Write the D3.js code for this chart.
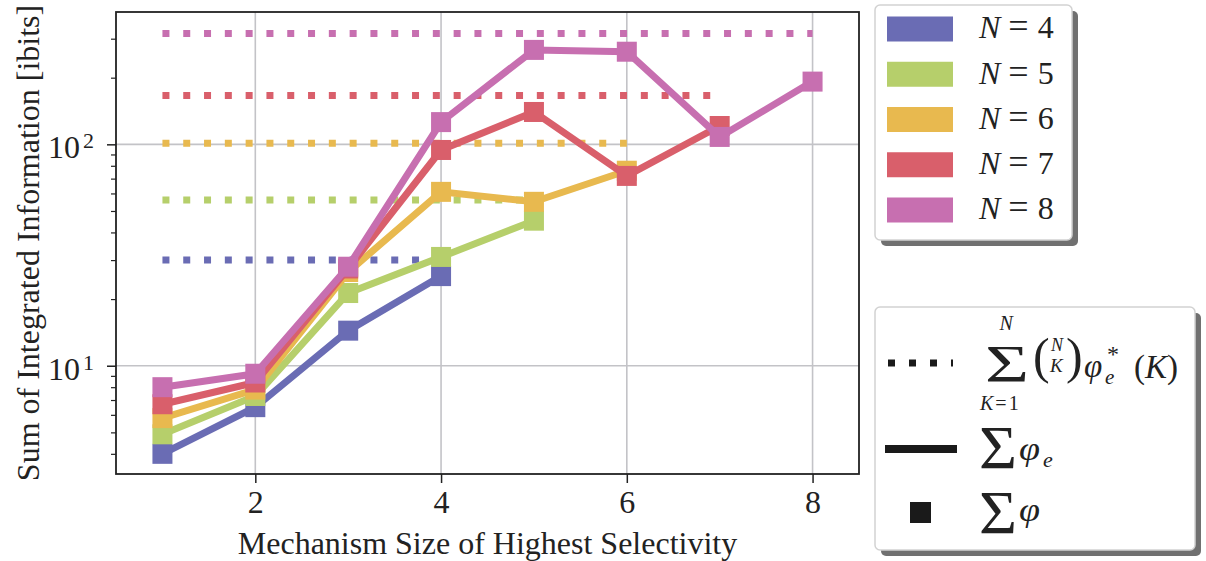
<!DOCTYPE html>
<html><head><meta charset="utf-8">
<script src="https://cdn.jsdelivr.net/npm/d3@7"></script>
<style>body{margin:0;background:#fff}</style>
</head><body><svg id="c" width="1206" height="561"></svg>
<script>
const sizes = [1, 2, 3, 4, 5, 6, 7, 8];
const nValues = [4, 5, 6, 7, 8];
const seriesN4 = [4.0, 6.5, 14.4, 25.4];
const seriesN5 = [4.9, 7.3, 21.3, 31.0, 45.2];
const seriesN6 = [5.8, 7.8, 26.5, 61.0, 55.0, 76.0];
const seriesN7 = [6.7, 8.4, 27.5, 94.3, 140.0, 72.0, 121.0];
const seriesN8 = [8.0, 9.2, 28.0, 126.0, 267.0, 262.0, 108.0, 192.0];
const boundValues = [30.0, 56.0, 101.0, 166.0, 317.0];
const colors = ["#6a6cb4", "#b6cf6b", "#e8b94f", "#d95f6b", "#c76fb0"];
const xTicks = [2, 4, 6, 8];
const yMajor = [10, 100];
const yMajorExp = ["1", "2"];
const yMinor = [4, 5, 6, 7, 8, 9, 20, 30, 40, 50, 60, 70, 80, 90, 200, 300];
const xLabel = "Mechanism Size of Highest Selectivity";
const yLabel = "Sum of Integrated Information [ibits]";

const FONT = "'Liberation Serif', 'Times New Roman', serif";
const INK = "#222";
const svg = d3.select("#c");

const x = d3.scaleLinear().domain([0.5, 8.5]).range([116, 859]);
const y = d3.scaleLog().domain([3.243, 396]).range([474, 12]);

// grid
const grid = svg.append("g").attr("stroke", "#c3c3c7").attr("stroke-width", 1.6);
grid.selectAll("line.v").data(xTicks).join("line").attr("class", "v")
  .attr("x1", d => x(d)).attr("x2", d => x(d)).attr("y1", y.range()[0]).attr("y2", y.range()[1]);
grid.selectAll("line.h").data(yMajor).join("line").attr("class", "h")
  .attr("y1", d => y(d)).attr("y2", d => y(d)).attr("x1", x.range()[0]).attr("x2", x.range()[1]);

// series
const allSeries = [seriesN4, seriesN5, seriesN6, seriesN7, seriesN8];
const line = d3.line().x(d => x(d[0])).y(d => y(d[1]));
allSeries.forEach((vals, i) => {
  const g = svg.append("g");
  g.append("path")
    .attr("d", line([[1, boundValues[i]], [nValues[i], boundValues[i]]]))
    .attr("fill", "none").attr("stroke", colors[i]).attr("stroke-width", 7)
    .attr("stroke-dasharray", "7 13.8");
  const pts = vals.map((v, j) => [sizes[j], v]);
  g.append("path").attr("d", line(pts))
    .attr("fill", "none").attr("stroke", colors[i]).attr("stroke-width", 7)
    .attr("stroke-linejoin", "miter");
  g.selectAll("rect").data(pts).join("rect")
    .attr("x", d => x(d[0]) - 10).attr("y", d => y(d[1]) - 10)
    .attr("width", 20).attr("height", 20).attr("fill", colors[i]);
});

// frame
svg.append("rect").attr("x", x.range()[0]).attr("y", y.range()[1])
  .attr("width", x.range()[1] - x.range()[0]).attr("height", y.range()[0] - y.range()[1])
  .attr("fill", "none").attr("stroke", INK).attr("stroke-width", 1.8);

// x axis
const xAxis = svg.append("g").attr("transform", `translate(0,${y.range()[0]})`)
  .call(d3.axisBottom(x).tickValues(xTicks).tickSize(9).tickFormat(d3.format("d")));
xAxis.select(".domain").remove();
xAxis.selectAll("line").attr("stroke", INK).attr("stroke-width", 1.5);
xAxis.selectAll("text").attr("font-family", FONT).attr("font-size", 32).attr("fill", INK)
  .attr("y", 39).attr("dy", null);

// y axis
const yAxis = svg.append("g").attr("transform", `translate(${x.range()[0]},0)`)
  .call(d3.axisLeft(y).tickValues(yMajor).tickSize(9).tickFormat(() => ""));
yAxis.select(".domain").remove();
yAxis.selectAll("line").attr("stroke", INK).attr("stroke-width", 1.5);
const yMin = svg.append("g").attr("transform", `translate(${x.range()[0]},0)`)
  .call(d3.axisLeft(y).tickValues(yMinor).tickSize(5).tickFormat(() => ""));
yMin.select(".domain").remove();
yMin.selectAll("line").attr("stroke", INK).attr("stroke-width", 1.2);

const yl = svg.append("g").selectAll("text").data(yMajor).join("text")
  .attr("x", 94).attr("y", d => y(d) + 14).attr("text-anchor", "end")
  .attr("font-family", FONT).attr("font-size", 32).attr("fill", INK);
yl.append("tspan").text("10");
yl.append("tspan").attr("dy", -10).attr("dx", 3).attr("font-size", 22).text((d, i) => yMajorExp[i]);

// axis labels
svg.append("text").attr("x", (x.range()[0] + x.range()[1]) / 2).attr("y", 554)
  .attr("text-anchor", "middle").attr("font-family", FONT).attr("font-size", 32).attr("fill", INK)
  .text(xLabel);
svg.append("text").attr("transform", `translate(38.5,${(y.range()[0] + y.range()[1]) / 2}) rotate(-90)`)
  .attr("text-anchor", "middle").attr("font-family", FONT).attr("font-size", 32).attr("fill", INK)
  .text(yLabel);

// legend boxes
function box(x0, y0, w, h) {
  svg.append("rect").attr("x", x0 + 6).attr("y", y0 + 6).attr("width", w).attr("height", h)
    .attr("rx", 5).attr("fill", "#707070");
  svg.append("rect").attr("x", x0).attr("y", y0).attr("width", w).attr("height", h)
    .attr("rx", 5).attr("fill", "#fff").attr("stroke", "#d2d2d2").attr("stroke-width", 1.5);
}
box(875, 5, 197, 235);
const leg = svg.append("g");
nValues.forEach((n, i) => {
  const cy = 29 + i * 45.25;
  leg.append("rect").attr("x", 887).attr("y", cy - 12.5).attr("width", 66).attr("height", 25)
    .attr("fill", colors[i]);
  const t = leg.append("text").attr("x", 979).attr("y", cy + 9.3)
    .attr("font-family", FONT).attr("font-size", 32).attr("fill", INK);
  t.append("tspan").attr("font-style", "italic").text("N");
  t.append("tspan").attr("dx", 8).attr("font-size", 36).text("=");
  t.append("tspan").attr("dx", 9).text(String(n));
});

box(875, 307, 320, 243);
const l2 = svg.append("g").attr("font-family", FONT).attr("fill", INK);
l2.append("line").attr("x1", 888).attr("x2", 953).attr("y1", 363).attr("y2", 363)
  .attr("stroke", "#1a1a1a").attr("stroke-width", 7).attr("stroke-dasharray", "7 14");
l2.append("line").attr("x1", 885).attr("x2", 957).attr("y1", 449).attr("y2", 449)
  .attr("stroke", "#1a1a1a").attr("stroke-width", 8);
l2.append("rect").attr("x", 910).attr("y", 502).attr("width", 21).attr("height", 21).attr("fill", "#1a1a1a");

function part(sel, txt, o) {
  const t = sel.append("tspan").text(txt);
  Object.entries(o).forEach(([k, v]) => t.attr(k, v));
  return t;
}
// formula 1: sum_{K=1}^{N} binom(N,K) phi_e^*(K)
const f1 = l2.append("text").attr("font-size", 20);
part(f1, "Σ", {x: 985, y: 382, "font-size": 52, textLength: 44, lengthAdjust: "spacingAndGlyphs"});
part(f1, "N", {x: 999.5, y: 330, "font-style": "italic"});
part(f1, "K", {x: 980, y: 410, "font-style": "italic"});
part(f1, "=", {dx: 2});
part(f1, "1", {dx: 2});
part(f1, "(", {x: 1033, y: 373, "font-size": 50});
part(f1, "N", {x: 1051, y: 351, "font-size": 18, "font-style": "italic"});
part(f1, "K", {x: 1050, y: 372, "font-size": 19, "font-style": "italic"});
part(f1, ")", {x: 1066, y: 373, "font-size": 50});
part(f1, "φ", {x: 1084, y: 377, "font-size": 33, "font-style": "italic"});
part(f1, "e", {x: 1105, y: 384, "font-size": 21, "font-style": "italic"});
part(f1, "*", {x: 1107, y: 362, "font-size": 24});
part(f1, "(", {x: 1134, y: 378, "font-size": 33});
part(f1, "K", {"font-size": 33, "font-style": "italic"});
part(f1, ")", {"font-size": 33});

// formula 2: sum phi_e
const f2 = l2.append("text").attr("font-size", 22);
part(f2, "Σ", {x: 979, y: 468, "font-size": 62, textLength: 38, lengthAdjust: "spacingAndGlyphs"});
part(f2, "φ", {x: 1019, y: 460, "font-size": 34, "font-style": "italic", textLength: 21, lengthAdjust: "spacingAndGlyphs"});
part(f2, "e", {x: 1043, y: 467, "font-style": "italic"});
// formula 3: sum phi
const f3 = l2.append("text").attr("font-size", 22);
part(f3, "Σ", {x: 979, y: 533, "font-size": 62, textLength: 38, lengthAdjust: "spacingAndGlyphs"});
part(f3, "φ", {x: 1019, y: 521, "font-size": 34, "font-style": "italic", textLength: 21, lengthAdjust: "spacingAndGlyphs"});
</script></body></html>
